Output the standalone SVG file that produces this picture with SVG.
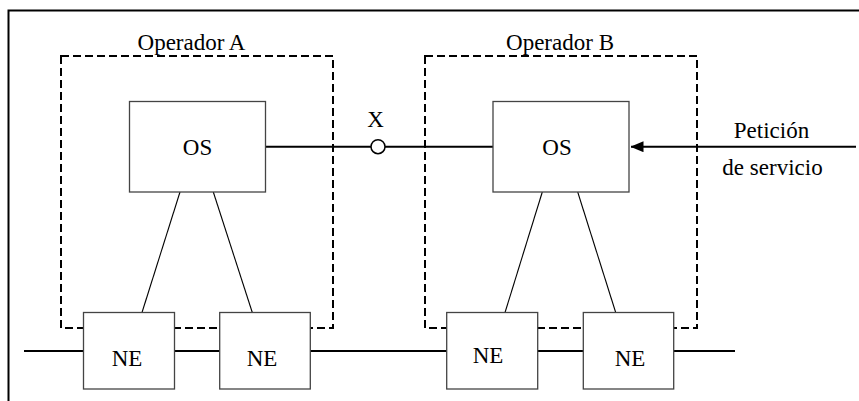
<svg xmlns="http://www.w3.org/2000/svg" width="859" height="401" viewBox="0 0 859 401">
<style>
.t{font-family:'Liberation Serif','Times New Roman',Times,serif;font-size:23px;fill:#000}
.box{fill:#fff;stroke:#444;stroke-width:1.3}
.dash{fill:none;stroke:#000;stroke-width:2;stroke-dasharray:8,4}
.thin{stroke:#000;stroke-width:1.1;fill:none}
.thick{stroke:#000;stroke-width:2;fill:none}
</style>
<defs>
<marker id="arr" markerWidth="13" markerHeight="11" refX="12.5" refY="5.5" orient="auto" markerUnits="userSpaceOnUse">
<path d="M0,0 L13,5.5 L0,11 Z" fill="#000"/>
</marker>
</defs>
<rect width="859" height="401" fill="#fff"/>
<g id="frame">
<path d="M8.5,401 V10.5 H859" class="thick" stroke-width="1.5"/>
</g>
<g id="operadorA">
<rect x="61" y="56" width="272" height="272" class="dash"/>
<text class="t" font-family="Liberation Serif, Times New Roman, serif" x="191.5" y="50" text-anchor="middle">Operador A</text>
</g>
<g id="operadorB">
<rect x="425" y="56" width="272" height="272" class="dash"/>
<text class="t" font-family="Liberation Serif, Times New Roman, serif" x="560" y="50" text-anchor="middle">Operador B</text>
</g>
<g id="connectors">
<line x1="24" y1="351" x2="735" y2="351" class="thick"/>
<line x1="266" y1="146.7" x2="371" y2="146.7" class="thick"/>
<line x1="385" y1="146.7" x2="493" y2="146.7" class="thick"/>
<line x1="856" y1="146.7" x2="631" y2="146.7" class="thick" marker-end="url(#arr)"/>
<line x1="180" y1="192" x2="142" y2="312.5" class="thin"/>
<line x1="213.3" y1="192" x2="252.3" y2="312.5" class="thin"/>
<line x1="542.3" y1="192" x2="505" y2="312.5" class="thin"/>
<line x1="577.7" y1="192" x2="615.7" y2="312.5" class="thin"/>
</g>
<g id="X">
<circle cx="378" cy="146.7" r="7" fill="#fff" stroke="#000" stroke-width="1.5"/>
<text class="t" font-family="Liberation Serif, Times New Roman, serif" x="375.5" y="127" text-anchor="middle">X</text>
</g>
<g id="osA">
<rect x="129.5" y="101.5" width="136" height="90.5" class="box"/>
<text class="t" font-family="Liberation Serif, Times New Roman, serif" x="197.5" y="155" text-anchor="middle">OS</text>
</g>
<g id="osB">
<rect x="493" y="101.5" width="136" height="90.5" class="box"/>
<text class="t" font-family="Liberation Serif, Times New Roman, serif" x="557" y="155" text-anchor="middle">OS</text>
</g>
<g id="peticion">
<text class="t" font-family="Liberation Serif, Times New Roman, serif" x="771.5" y="138" text-anchor="middle">Petición</text>
<text class="t" font-family="Liberation Serif, Times New Roman, serif" x="772.5" y="175" text-anchor="middle">de servicio</text>
</g>
<g id="neA1">
<rect x="83.5" y="312.5" width="91" height="76.5" class="box"/>
<text class="t" font-family="Liberation Serif, Times New Roman, serif" x="127" y="365.5" text-anchor="middle">NE</text>
</g>
<g id="neA2">
<rect x="219.7" y="312.5" width="90.6" height="76.5" class="box"/>
<text class="t" font-family="Liberation Serif, Times New Roman, serif" x="262" y="365.5" text-anchor="middle">NE</text>
</g>
<g id="neB1">
<rect x="446.7" y="312.5" width="91" height="76.5" class="box"/>
<text class="t" font-family="Liberation Serif, Times New Roman, serif" x="488" y="362.5" text-anchor="middle">NE</text>
</g>
<g id="neB2">
<rect x="583.3" y="312.5" width="90.4" height="76.5" class="box"/>
<text class="t" font-family="Liberation Serif, Times New Roman, serif" x="630" y="365.5" text-anchor="middle">NE</text>
</g>
</svg>
